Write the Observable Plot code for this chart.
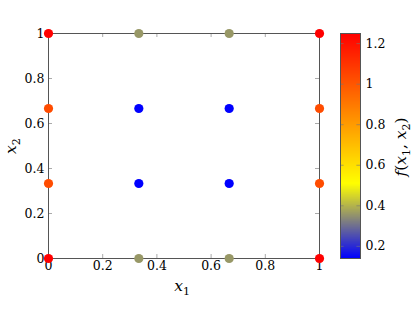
<!DOCTYPE html>
<html>
<head>
<meta charset="utf-8">
<script src="https://cdn.jsdelivr.net/npm/d3@7"></script>
<script src="https://cdn.jsdelivr.net/npm/@observablehq/plot@0.6"></script>
<style>
  body { margin: 0; background: #fff; }
  #chart { width: 415px; height: 321px; }
  #chart svg, #chart svg text { font-family: 'DejaVu Serif', serif !important; }
</style>
</head>
<body>
<div id="chart"></div>
<script>
// Data
const x1 = [0, 0, 0, 0, 1/3, 1/3, 1/3, 1/3, 2/3, 2/3, 2/3, 2/3, 1, 1, 1, 1];
const x2 = [0, 1/3, 2/3, 1, 0, 1/3, 2/3, 1, 0, 1/3, 2/3, 1, 0, 1/3, 2/3, 1];
const fval = [1.25, 1.03, 1.03, 1.25, 0.36, 0.14, 0.14, 0.36, 0.36, 0.14, 0.14, 0.36, 1.25, 1.03, 1.03, 1.25];
const axisTicks = [0, 0.2, 0.4, 0.6, 0.8, 1];
const axisTickLabels = ["0", "0.2", "0.4", "0.6", "0.8", "1"];
const cbTicks = [0.2, 0.4, 0.6, 0.8, 1, 1.2];
const cbTickLabels = ["0.2", "0.4", "0.6", "0.8", "1", "1.2"];
const cmapColors = ["#0000ff", "#ffff00", "#ff8000", "#ff0000"]; // pgfplots "hot"
const fMin = 0.14, fMax = 1.25;

const points = x1.map((v, i) => ({x1: v, x2: x2[i], f: fval[i]}));
const cmapDomain = cmapColors.map((_, i) => fMin + (fMax - fMin) * i / (cmapColors.length - 1));
const colorScale = {type: "linear", domain: cmapDomain, range: cmapColors, interpolate: "rgb"};
const font = "DejaVu Serif";
const fs = 12.5;
const fmtX = d => axisTickLabels[axisTicks.indexOf(d)];
const fmtC = d => cbTickLabels[cbTicks.indexOf(d)];
const tickLen = 4 / 225;

const main = Plot.plot({
  width: 415, height: 321,
  marginLeft: 48, marginRight: 96, marginTop: 33, marginBottom: 63,
  style: {fontFamily: font, fontSize: fs + "px", color: "#000", background: "#fff"},
  x: {domain: [0, 1]},
  y: {domain: [0, 1]},
  color: colorScale,
  marks: [
    Plot.axisX(axisTicks, {tickSize: 0, tickPadding: 3, tickFormat: fmtX, label: null, fontSize: fs, fontFamily: font}),
    Plot.axisY(axisTicks, {tickSize: 0, tickPadding: 4, tickFormat: fmtX, label: null, fontSize: fs, fontFamily: font}),
    Plot.ruleX(axisTicks.slice(1, -1), {x: d => d, y1: 0, y2: tickLen, stroke: "#aaa"}),
    Plot.ruleX(axisTicks.slice(1, -1), {x: d => d, y1: 1 - tickLen, y2: 1, stroke: "#aaa"}),
    Plot.ruleY(axisTicks.slice(1, -1), {y: d => d, x1: 0, x2: tickLen * 225 / 271, stroke: "#aaa"}),
    Plot.ruleY(axisTicks.slice(1, -1), {y: d => d, x1: 1 - tickLen * 225 / 271, x2: 1, stroke: "#aaa"}),
    Plot.frame({stroke: "#555", strokeWidth: 1}),
    Plot.dot(points, {x: "x1", y: "x2", fill: "f", r: 4.6, stroke: null})
  ]
});

const cb = Plot.plot({
  width: 75, height: 321,
  marginLeft: 0, marginRight: 55, marginTop: 33, marginBottom: 63,
  style: {fontFamily: font, fontSize: fs + "px", color: "#000", background: "transparent"},
  x: {domain: [0, 1], axis: null},
  y: {domain: [fMin, fMax]},
  color: colorScale,
  marks: [
    Plot.raster({fill: (x, y) => y, x1: 0, x2: 1, y1: fMin, y2: fMax, width: 4, height: 225}),
    Plot.axisY(cbTicks, {anchor: "right", tickSize: 0, tickPadding: 5, tickFormat: fmtC, label: null, fontSize: fs, fontFamily: font}),
    Plot.ruleY(cbTicks, {y: d => d, x1: 0, x2: 0.18, stroke: "#777", strokeOpacity: 0.6}),
    Plot.ruleY(cbTicks, {y: d => d, x1: 0.82, x2: 1, stroke: "#777", strokeOpacity: 0.6}),
    Plot.frame({stroke: "#555", strokeWidth: 1})
  ]
});
cb.setAttribute("x", 340);
cb.setAttribute("y", 0);
main.appendChild(cb);

const svg = d3.select(main);
function mathLabel(x, y, rotate, parts) {
  const t = svg.append("text")
    .attr("transform", `translate(${x},${y}) rotate(${rotate})`)
    .attr("text-anchor", "middle")
    .attr("font-family", font)
    .attr("font-size", 15.5)
    .attr("fill", "#000");
  parts.forEach(p => {
    const s = t.append("tspan").text(p.t);
    if (p.i) s.attr("font-style", "italic");
    if (p.sub) s.attr("font-size", 11).attr("dy", 3.5);
    if (p.up) s.attr("dy", -3.5);
  });
}
mathLabel(182, 291, 0, [{t: "x", i: true}, {t: "1", sub: true}]);
mathLabel(16, 146, -90, [{t: "x", i: true}, {t: "2", sub: true}]);
mathLabel(406, 147, -90, [{t: "f", i: true}, {t: "("}, {t: "x", i: true}, {t: "1", sub: true}, {t: ", ", up: true}, {t: "x", i: true}, {t: "2", sub: true}, {t: ")", up: true}]);

document.getElementById("chart").appendChild(main);
</script>
</body>
</html>
